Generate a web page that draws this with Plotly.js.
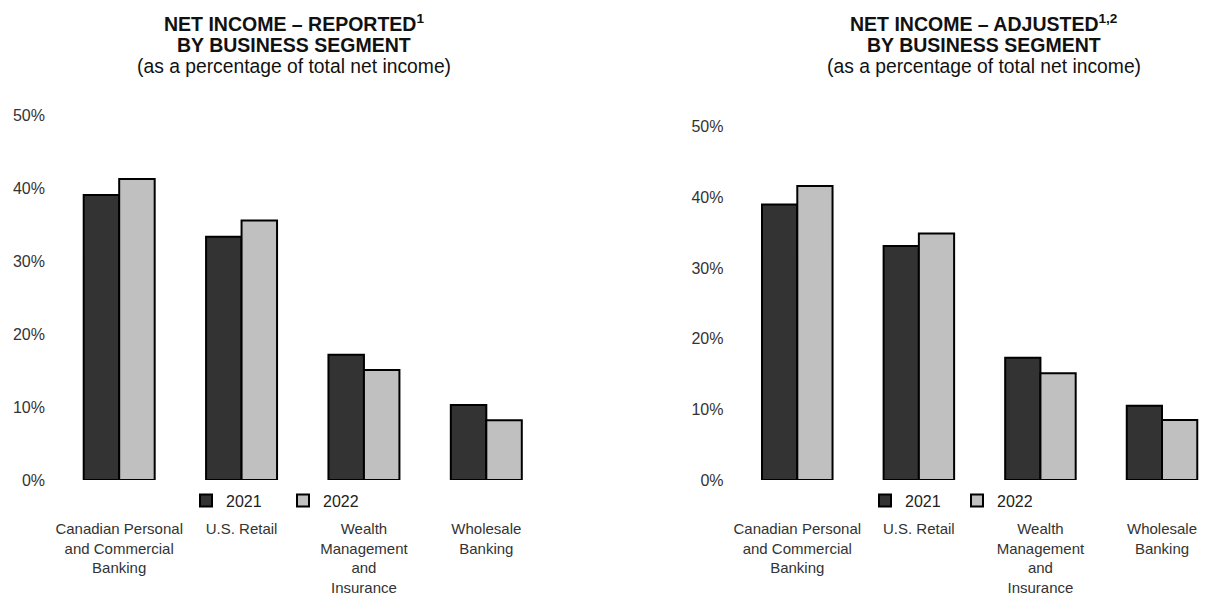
<!DOCTYPE html>
<html><head><meta charset="utf-8">
<script src="https://cdn.plot.ly/plotly-3.0.1.min.js"></script>
<style>html,body{margin:0;padding:0;background:#fff}#chart{width:1227px;height:594px}</style>
</head><body><div id="chart"></div>
<script>
const categories = ['Canadian Personal<br>and Commercial<br>Banking', 'U.S. Retail', 'Wealth<br>Management<br>and<br>Insurance', 'Wholesale<br>Banking'];
const years = ['2021', '2022'];
const reported2021 = [39.1, 33.4, 17.2, 10.3];
const reported2022 = [41.3, 35.6, 15.1, 8.2];
const adjusted2021 = [39.0, 33.1, 17.3, 10.5];
const adjusted2022 = [41.6, 34.9, 15.1, 8.5];
const yTickValues = [0, 10, 20, 30, 40, 50];
const yTickLabels = ['0%', '10%', '20%', '30%', '40%', '50%'];
const titleReportedLines = ['<b>NET INCOME – REPORTED<sup>1</sup></b>', '<b>BY BUSINESS SEGMENT</b>', '(as a percentage of total net income)'];
const titleAdjustedLines = ['<b>NET INCOME – ADJUSTED<sup>1,2</sup></b>', '<b>BY BUSINESS SEGMENT</b>', '(as a percentage of total net income)'];

const FONT = 'Liberation Sans, Arial, sans-serif';
const darkFill = '#333333', lightFill = '#c0c0c0';
const outline = {color: '#000', width: 2};

function bar(y, name, fill, xa, ya, leg) {
  return {type: 'bar', x: categories, y: y, name: name, xaxis: xa, yaxis: ya, legend: leg,
    marker: {color: fill, line: outline}, hoverinfo: 'y'};
}
const data = [
  bar(reported2021, years[0], darkFill, 'x', 'y', 'legend'),
  bar(reported2022, years[1], lightFill, 'x', 'y', 'legend'),
  bar(adjusted2021, years[0], darkFill, 'x2', 'y2', 'legend2'),
  bar(adjusted2022, years[1], lightFill, 'x2', 'y2', 'legend2')
];
const W = 1227, H = 594;
function xaxis(d) {
  return {domain: d, showgrid: false, zeroline: false, showline: false, ticks: '',
    tickfont: {family: FONT, size: 15, color: '#333'}, ticklabelstandoff: 38, fixedrange: true, tickangle: 0};
}
function yaxis(d, anchor) {
  return {domain: d, anchor: anchor, range: [0, 50], tickvals: yTickValues, ticktext: yTickLabels,
    showgrid: false, zeroline: false, showline: false, ticks: '',
    tickfont: {family: FONT, size: 16, color: '#333'}, ticklabelstandoff: 12, fixedrange: true};
}
const titleY = [22.7, 45, 66.7];
const annotations = [];
[[titleReportedLines, 294], [titleAdjustedLines, 984]].forEach(([lines, cx]) => {
  lines.forEach((t, i) => annotations.push({xref: 'paper', yref: 'paper', x: cx / W, y: 1 - titleY[i] / H,
    xanchor: 'center', yanchor: 'middle', text: t, showarrow: false,
    font: {family: FONT, size: i < 2 ? 19.5 : 19.3, color: '#111'}}));
});
const layout = {
  width: W, height: H, margin: {l: 0, r: 0, t: 0, b: 0},
  paper_bgcolor: '#fff', plot_bgcolor: '#fff',
  barmode: 'group', bargap: 0.42, bargroupgap: 0,
  font: {family: FONT, color: '#222'},
  xaxis: xaxis([58 / W, 547.5 / W]),
  yaxis: yaxis([(H - 480) / H, (H - 115.7) / H], 'x'),
  xaxis2: Object.assign(xaxis([736.5 / W, 1222.8 / W]), {anchor: 'y2'}),
  yaxis2: yaxis([(H - 480) / H, (H - 126.7) / H], 'x2'),
  legend: {orientation: 'h', x: 186 / W, y: (H - 500.7) / H, xanchor: 'left', yanchor: 'middle',
    font: {family: FONT, size: 16, color: '#222'}, entrywidth: 52, bgcolor: 'rgba(0,0,0,0)', traceorder: 'normal'},
  legend2: {orientation: 'h', x: 865 / W, y: (H - 500.7) / H, xanchor: 'left', yanchor: 'middle',
    font: {family: FONT, size: 16, color: '#222'}, entrywidth: 47, bgcolor: 'rgba(0,0,0,0)', traceorder: 'normal'},
  showlegend: true,
  annotations: annotations
};
Plotly.newPlot('chart', data, layout, {displayModeBar: false, staticPlot: true});
</script></body></html>
